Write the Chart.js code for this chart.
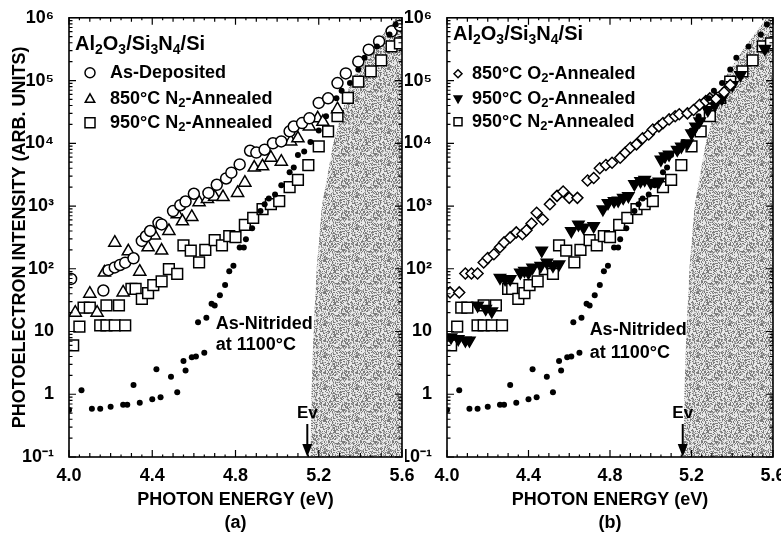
<!DOCTYPE html>
<html><head><meta charset="utf-8">
<script src="https://cdn.jsdelivr.net/npm/chart.js@4.4.1/dist/chart.umd.min.js"></script>
<style>
html,body{margin:0;padding:0;background:#fff;overflow:hidden;width:781px;height:535px;position:relative;}
#ca{position:absolute;left:0;top:0;}
#cb{position:absolute;left:405px;top:0;}
</style></head><body>
<canvas id="ca" width="415" height="535"></canvas>
<canvas id="cb" width="390" height="535"></canvas>
<script>
// ---------- data ----------
const xTicks = [4.0, 4.4, 4.8, 5.2, 5.6];
const yTicks = [0.1, 1, 10, 100, 1000, 10000, 100000, 1000000];
const yTickLabels = ['10\u207B\u00B9', '1', '10', '10\u00B2', '10\u00B3', '10\u2074', '10\u2075', '10\u2076'];

// As-Nitrided at 1100°C (filled dots, both panels)
const nitE = [4.00,4.06,4.11,4.15,4.20,4.26,4.28,4.31,4.34,4.40,4.42,4.44,4.49,4.52,4.55,4.56,4.59,4.61,4.62,4.65,4.66,4.685,4.70,4.725,4.75,4.77,4.79,4.82,4.84,4.85,4.88,4.92,4.94,4.96,4.99,5.02,5.06,5.08,5.10,5.13,5.16,5.20,5.235,5.285,5.31,5.35,5.39,5.42,5.48,5.54,5.57];
const nitI = [0.56,1.16,0.59,0.59,0.63,0.68,0.68,1.4,0.73,0.83,2.5,0.90,1.9,1.08,3.4,2.4,3.9,4.0,14,4.6,16.5,27.6,26,38,55,91,112,219,219,295,443,830,1070,1320,1530,2150,3450,4100,6500,7400,10500,16000,27000,52000,69000,91000,150000,230000,350000,540000,780000];

// As-Deposited (open circles, panel a)
const depE = [4.01,4.165,4.19,4.22,4.245,4.27,4.31,4.35,4.37,4.39,4.43,4.445,4.50,4.535,4.56,4.60,4.67,4.71,4.755,4.78,4.82,4.87,4.90,4.94,4.98,5.02,5.06,5.08,5.12,5.155,5.20,5.245,5.29,5.33,5.39,5.44,5.49,5.55,5.59];
const depI = [69,45,95,105,115,125,147,278,330,400,540,510,830,1030,1180,1570,1620,2180,2750,3400,4600,7600,7100,7900,10000,10700,15500,18500,21000,25000,44000,52000,91000,130000,200000,310000,420000,610000,750000];

// 850°C N2-Annealed (open triangles, panel a)
const n850E = [4.03,4.10,4.135,4.17,4.22,4.26,4.285,4.34,4.38,4.41,4.445,4.48,4.52,4.545,4.59,4.625,4.665,4.70,4.74,4.81,4.845,4.89,4.93,4.97,5.02,5.065,5.10,5.155,5.195,5.22,5.29];
const n850I = [20,40,20,87,260,42,190,90,220,340,195,400,740,570,670,1150,1300,1400,1390,1620,2350,4100,4300,5900,5100,10700,12000,18600,25000,22000,35000];

// 950°C N2-Annealed (open squares, both panels)
const n950E = [4.02,4.05,4.07,4.10,4.15,4.18,4.18,4.22,4.24,4.27,4.30,4.32,4.35,4.38,4.405,4.445,4.48,4.52,4.55,4.585,4.625,4.655,4.70,4.735,4.77,4.80,4.845,4.885,4.93,4.97,5.01,5.06,5.10,5.15,5.20,5.245,5.29,5.34,5.39,5.45,5.50,5.55,5.59];
const n950I = [6,12,24,24,12.5,12.5,26,12.5,26,12.5,48,48,33,41,55,63,99,83,235,195,126,200,285,235,330,320,500,650,890,1070,1200,2000,2600,4500,8900,15500,27000,53000,96000,140000,210000,350000,390000];

// 850°C O2-Annealed (open diamonds, panel b)
const o850E = [4.015,4.06,4.09,4.12,4.15,4.18,4.20,4.23,4.26,4.28,4.31,4.34,4.37,4.39,4.415,4.44,4.47,4.505,4.54,4.57,4.60,4.64,4.69,4.72,4.75,4.78,4.81,4.85,4.875,4.90,4.93,4.96,4.99,5.01,5.04,5.06,5.09,5.12,5.14,5.18,5.21,5.24,5.27,5.29,5.32,5.36,5.39];
const o850I = [42,42,84,84,84,126,148,170,220,263,316,380,355,410,525,780,610,1070,1450,1700,1350,1350,2550,2800,4000,4500,4900,5900,7100,8500,9600,12000,13800,16600,18600,21000,24000,27000,29000,30000,34000,41000,47000,52000,51000,65000,85000];

// 950°C O2-Annealed (filled inverted triangles, panel b)
const o950E = [4.02,4.055,4.09,4.11,4.15,4.19,4.22,4.26,4.285,4.31,4.36,4.38,4.40,4.42,4.46,4.465,4.49,4.52,4.55,4.61,4.645,4.67,4.72,4.765,4.79,4.82,4.84,4.865,4.89,4.92,4.95,4.97,5.00,5.04,5.05,5.07,5.09,5.13,5.15,5.18,5.20,5.22,5.24,5.28,5.315,5.35,5.40,5.44,5.56];
const o950I = [8.1,7.6,7.2,7.2,26,23,21,72,69,69,87,93,87,105,112,195,126,112,118,400,510,455,480,890,1120,1200,1230,1350,1450,2240,2500,2630,2340,2450,5500,6200,6600,7900,8900,10000,14500,18600,22400,34000,41000,52000,85000,123000,320000];

// left edge of the shaded (Si valence band) region
const shadeE = [5.16,5.165,5.175,5.19,5.215,5.27,5.355,5.45,5.57,5.60];
const shadeI = [0.1,1,10,100,1000,10000,100000,300000,1000000,1000000];

// ---------- helpers ----------
const FONT = '"Liberation Sans", Arial, Helvetica, sans-serif';
function pts(xs, ys){ return xs.map((x,i)=>({x:x, y:ys[i]})); }

function makePattern(){
  const N = 32;
  const c = document.createElement('canvas'); c.width = N; c.height = N;
  const g = c.getContext('2d');
  g.fillStyle = '#e8e8e8'; g.fillRect(0,0,N,N);
  for (let i=0;i<N;i++) for (let j=0;j<N;j++){
    let h = Math.imul(i + 17, 374761393) ^ Math.imul(j + 31, 668265263);
    h = Math.imul(h ^ (h >>> 13), 1274126177);
    h = (h ^ (h >>> 16)) >>> 0;
    const v = h % 100;
    if (v < 30) { g.fillStyle = '#7a7a7a'; g.fillRect(i,j,1,1); }
    else if (v < 50) { g.fillStyle = '#acacac'; g.fillRect(i,j,1,1); }
  }
  return c.getContext('2d').createPattern(c,'repeat');
}

function rich(ctx, x, y, text, size){
  const parts = text.split(/_(\d)/);
  let cx = x;
  parts.forEach((t,i)=>{
    const sub = i % 2 === 1;
    const s = sub ? Math.round(size*0.72) : size;
    ctx.font = 'bold ' + s + 'px ' + FONT;
    ctx.fillText(t, cx, sub ? y + size*0.28 : y);
    cx += ctx.measureText(t).width;
  });
}

function marker(ctx, m, x, y, r){
  ctx.save(); ctx.lineWidth = 1.5; ctx.strokeStyle = '#000'; ctx.fillStyle = '#fff';
  ctx.beginPath();
  if (m === 'circle') ctx.arc(x, y, r, 0, Math.PI*2);
  else if (m === 'triangle'){ ctx.moveTo(x, y-r); ctx.lineTo(x+r*0.95, y+r*0.7); ctx.lineTo(x-r*0.95, y+r*0.7); ctx.closePath(); }
  else if (m === 'invtri'){ ctx.moveTo(x, y+r); ctx.lineTo(x+r*0.95, y-r*0.7); ctx.lineTo(x-r*0.95, y-r*0.7); ctx.closePath(); ctx.fillStyle = '#000'; }
  else if (m === 'rect') ctx.rect(x-r, y-r, 2*r, 2*r);
  else if (m === 'diamond'){ ctx.moveTo(x, y-r); ctx.lineTo(x+r, y); ctx.lineTo(x, y+r); ctx.lineTo(x-r, y); ctx.closePath(); }
  ctx.fill(); ctx.stroke(); ctx.restore();
}

function decoPlugin(cfg){
  return {
    id: 'deco' + cfg.id,
    afterDatasetsDraw(chart){
      const ctx = chart.ctx, a = chart.chartArea, x = chart.scales.x, y = chart.scales.y;
      ctx.save();
      ctx.strokeStyle = '#000';
      ctx.lineWidth = 1.6;
      ctx.strokeRect(a.left, a.top, a.right - a.left, a.bottom - a.top);
      ctx.lineWidth = 1.2;
      ctx.beginPath();
      for (let d = -1; d <= 5; d++){
        for (let m = 1; m <= 9; m++){
          const py = y.getPixelForValue(m * Math.pow(10, d));
          const L = m === 1 ? 7 : 3.5;
          ctx.moveTo(a.left, py); ctx.lineTo(a.left + L, py);
          ctx.moveTo(a.right, py); ctx.lineTo(a.right - L, py);
        }
      }
      for (let k = 0; k <= 32; k++){
        const px = x.getPixelForValue(4 + k*0.05);
        const L = k % 8 === 0 ? 7 : (k % 2 === 0 ? 4 : 2.5);
        ctx.moveTo(px, a.bottom); ctx.lineTo(px, a.bottom - L);
        ctx.moveTo(px, a.top); ctx.lineTo(px, a.top + L);
      }
      ctx.stroke();

      ctx.fillStyle = '#000'; ctx.textBaseline = 'middle'; ctx.textAlign = 'left';
      rich(ctx, a.left + cfg.titleDx, a.top + cfg.titleDy, 'Al_2O_3/Si_3N_4/Si', cfg.titleSize);
      cfg.rows.forEach((r, i)=>{
        marker(ctx, r.m, a.left + cfg.mDx, a.top + cfg.rowDy[i], cfg.mSize);
        rich(ctx, a.left + cfg.tDx, a.top + cfg.rowDy[i], r.t, cfg.legSize);
      });

      // As-Nitrided label
      const nx = x.getPixelForValue(cfg.nitX);
      rich(ctx, nx, y.getPixelForValue(cfg.nitY1), 'As-Nitrided', 18);
      rich(ctx, nx, y.getPixelForValue(cfg.nitY2), 'at 1100\u00B0C', 18);

      // Ev arrow
      const ex = x.getPixelForValue(cfg.evX);
      ctx.textAlign = 'center';
      ctx.font = 'bold 17px ' + FONT;
      ctx.fillText('Ev', ex, a.bottom - 44);
      ctx.lineWidth = 2;
      ctx.beginPath(); ctx.moveTo(ex, a.bottom - 33); ctx.lineTo(ex, a.bottom - 12); ctx.stroke();
      ctx.beginPath(); ctx.moveTo(ex - 5, a.bottom - 13); ctx.lineTo(ex + 5, a.bottom - 13); ctx.lineTo(ex, a.bottom); ctx.closePath(); ctx.fill();
      ctx.restore();
    }
  };
}

const pattern = makePattern();

function shadeSet(){
  return { type:'line', label:'shade', data: pts(shadeE, shadeI), showLine:true, fill:'start',
    backgroundColor: pattern, borderWidth:0, borderColor:'rgba(0,0,0,0)', pointRadius:0, tension:0, order:100 };
}
function openSet(label, data, style, r, extra){
  return Object.assign({ label:label, data:data, showLine:false, pointStyle:style, pointRadius:r,
    pointBorderColor:'#000', pointBackgroundColor:'#fff', pointBorderWidth:1.5, order:2 }, extra || {});
}
function dotSet(){
  return { label:'As-Nitrided', data: pts(nitE, nitI), showLine:false, pointStyle:'circle', pointRadius:3,
    pointBorderColor:'#000', pointBackgroundColor:'#000', pointBorderWidth:0, order:1 };
}

function options(left){
  const tickFont = { family: FONT, size: 18, weight: 'bold' };
  return {
    responsive:false, animation:false, devicePixelRatio:1,
    layout:{ padding:{ top:16, right: left ? 13 : 22, bottom:0, left:0 } },
    plugins:{ legend:{display:false}, tooltip:{enabled:false} },
    scales:{
      x:{ type:'linear', min:4.0, max:5.6,
        afterBuildTicks: s => { s.ticks = xTicks.map(v => ({value:v})); },
        ticks:{ callback: v => Number(v).toFixed(1), color:'#000', font: tickFont, padding:0, maxRotation:0, autoSkip:false },
        grid:{ display:false }, border:{ display:false },
        title:{ display:true, text:['PHOTON ENERGY (eV)', left ? '(a)' : '(b)'], color:'#000',
          font:{ family: FONT, size: 18, weight:'bold', lineHeight: 1.3 }, padding:{top:0, bottom:0} },
        afterFit: s => { s.height = 78; }
      },
      y:{ type:'logarithmic', min:0.1, max:1000000,
        afterBuildTicks: s => { s.ticks = yTicks.map(v => ({value:v})); },
        ticks:{ callback: (v, i) => yTickLabels[i], color:'#000', font: tickFont, padding:7, autoSkip:false },
        grid:{ display:false }, border:{ display:false },
        title: left ? { display:true, text:'PHOTOELECTRON INTENSITY (ARB. UNITS)', color:'#000',
          font:{ family: FONT, size: 18, weight:'bold' }, padding:{top:9, bottom:0} } : { display:false },
        afterFit: s => { s.width = left ? 69 : 42; }
      }
    }
  };
}

new Chart(document.getElementById('ca'), {
  type:'scatter',
  data:{ datasets:[
    dotSet(),
    openSet('As-Deposited', pts(depE, depI), 'circle', 5.5),
    openSet('850°C N2-Annealed', pts(n850E, n850I), 'triangle', 7),
    openSet('950°C N2-Annealed', pts(n950E, n950I), 'rect', 7.6),
    shadeSet()
  ]},
  options: options(true),
  plugins:[ decoPlugin({ id:'a', titleDx:6, titleDy:27, titleSize:20, mDx:21, tDx:41, rowDy:[55,81,105], mSize:5,
    legSize:18, rows:[{m:'circle', t:'As-Deposited'}, {m:'triangle', t:'850\u00B0C N_2-Annealed'}, {m:'rect', t:'950\u00B0C N_2-Annealed'}],
    nitX:4.705, nitY1:13.4, nitY2:6.0, evX:5.145 }) ]
});

new Chart(document.getElementById('cb'), {
  type:'scatter',
  data:{ datasets:[
    dotSet(),
    openSet('850°C O2-Annealed', pts(o850E, o850I), 'rectRot', 5.5),
    openSet('950°C O2-Annealed', pts(o950E, o950I), 'triangle', 6.5, { pointRotation:180, pointBackgroundColor:'#000' }),
    openSet('950°C N2-Annealed', pts(n950E, n950I), 'rect', 7.6),
    shadeSet()
  ]},
  options: options(false),
  plugins:[ decoPlugin({ id:'b', titleDx:6, titleDy:17, titleSize:20, mDx:11, tDx:25, rowDy:[56,81,104], mSize:4,
    legSize:18, rows:[{m:'diamond', t:'850\u00B0C O_2-Annealed'}, {m:'invtri', t:'950\u00B0C O_2-Annealed'}, {m:'rect', t:'950\u00B0C N_2-Annealed'}],
    nitX:4.70, nitY1:10.4, nitY2:4.6, evX:5.157 }) ]
});
</script>
</body></html>
